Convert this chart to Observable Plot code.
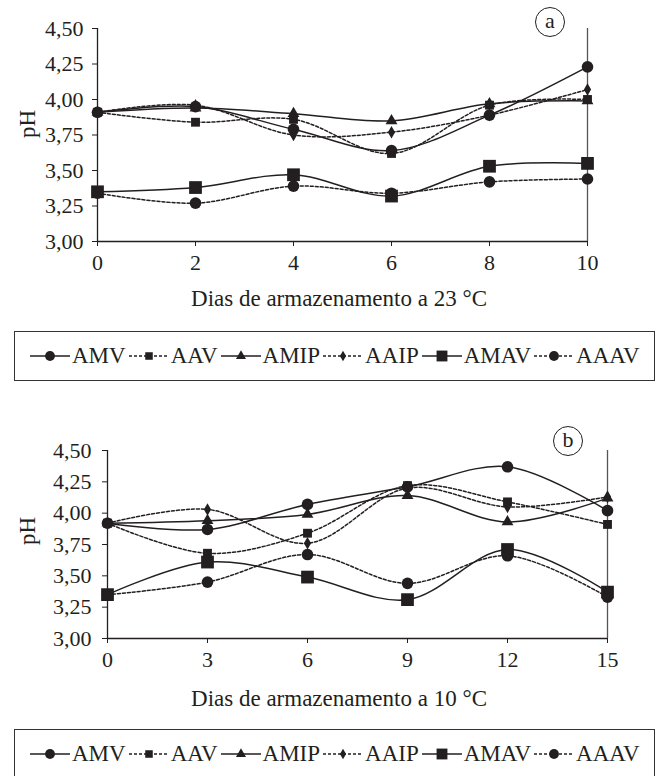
<!DOCTYPE html>
<html>
<head>
<meta charset="utf-8">
<script src="https://cdn.jsdelivr.net/npm/d3@7"></script>
<script src="https://cdn.jsdelivr.net/npm/@observablehq/plot@0.6"></script>
<style>
  body { margin: 0; background: #fff; }
  #page { position: relative; width: 664px; height: 776px; overflow: hidden;
          font-family: "Liberation Serif", "Times New Roman", serif; color: #231f20; }
  .panel { position: absolute; left: 0; }
  .lbl { position: absolute; white-space: nowrap; font-size: 23px; line-height: 1;
         transform: translate(-50%, -50%); }
  .lbl.rot { transform: translate(-50%, -50%) rotate(-90deg); }
  .tag { position: absolute; width: 30px; height: 30px; border: 1.3px solid #231f20;
         border-radius: 50%; box-sizing: border-box; font-size: 22px; line-height: 26px;
         text-align: center; transform: translate(-50%, -50%); background: #fff; }
  .legend { position: absolute; left: 14px; width: 641px; height: 50px; box-sizing: border-box;
            border: 1.3px solid #333; display: flex; align-items: center; padding-left: 15px;
            font-size: 23px; }
  .legend .item { display: flex; align-items: center; margin-right: 3px; }
  .legend svg { margin-right: 2px; }
</style>
</head>
<body>
<div id="page"></div>
<script>
// pH of each treatment during storage at 23 °C (panel a)
const diasA  = [0, 2, 4, 6, 8, 10];
const AMV_a  = [3.91, 3.95, 3.79, 3.64, 3.89, 4.23];
const AAV_a  = [3.91, 3.84, 3.86, 3.62, 3.96, 4.00];
const AMIP_a = [3.91, 3.94, 3.90, 3.85, 3.97, 3.99];
const AAIP_a = [3.91, 3.96, 3.75, 3.77, 3.89, 4.07];
const AMAV_a = [3.35, 3.38, 3.47, 3.32, 3.53, 3.55];
const AAAV_a = [3.34, 3.27, 3.39, 3.34, 3.42, 3.44];

// pH of each treatment during storage at 10 °C (panel b)
const diasB  = [0, 3, 6, 9, 12, 15];
const AMV_b  = [3.92, 3.87, 4.07, 4.21, 4.37, 4.02];
const AAV_b  = [3.92, 3.68, 3.84, 4.22, 4.09, 3.91];
const AMIP_b = [3.92, 3.94, 3.99, 4.14, 3.93, 4.12];
const AAIP_b = [3.92, 4.03, 3.76, 4.20, 4.05, 4.13];
const AMAV_b = [3.35, 3.61, 3.49, 3.31, 3.71, 3.37];
const AAAV_b = [3.35, 3.45, 3.67, 3.44, 3.66, 3.33];

const tratamentos = ["AMV", "AAV", "AMIP", "AAIP", "AMAV", "AAAV"];
const pHTicks = [3, 3.25, 3.5, 3.75, 4, 4.25, 4.5];

// line and marker style of each treatment
const cor = "#231f20";
const estilo = {
  AMV:  { dash: null,  symbol: "circle",   r: 5.8 },
  AAV:  { dash: "3,2", symbol: "square",   r: 5.0 },
  AMIP: { dash: null,  symbol: "triangle", r: 4.4 },
  AAIP: { dash: "3,2", symbol: "diamond",  r: 3.8 },
  AMAV: { dash: null,  symbol: "square",   r: 7.2 },
  AAAV: { dash: "3,2", symbol: "circle",   r: 5.8 }
};

const virgula = d => d.toFixed(2).replace(".", ",");

function linhas(dias, series) {
  return tratamentos.flatMap((t, i) => dias.map((dia, j) => ({ trat: t, dia, pH: series[i][j] })));
}

function painel(dias, series, m) {
  const rows = linhas(dias, series);
  const xMax = dias[dias.length - 1];
  const marks = [
    Plot.axisY({ ticks: pHTicks, tickFormat: virgula, tickSize: 5, tickPadding: m.padY, label: null }),
    Plot.axisX({ ticks: dias, tickSize: 5, tickPadding: 8, label: null }),
    Plot.ruleX([0], { stroke: cor, strokeWidth: 1.3 }),
    Plot.ruleY([3], { stroke: cor, strokeWidth: 1.3 }),
    Plot.ruleX([xMax], { stroke: "#555", strokeWidth: 1.3 })
  ];
  for (const t of tratamentos) {
    const d = rows.filter(r => r.trat === t);
    const s = estilo[t];
    marks.push(Plot.line(d, { x: "dia", y: "pH", curve: "catmull-rom", stroke: cor,
      strokeWidth: 1.5, strokeDasharray: s.dash ?? undefined }));
    marks.push(Plot.dot(d, { x: "dia", y: "pH", symbol: s.symbol, r: s.r, fill: cor, stroke: "none" }));
  }
  return Plot.plot({
    width: 664, height: m.height,
    marginTop: m.top, marginBottom: m.bottom, marginLeft: m.left, marginRight: m.right,
    x: { domain: [0, xMax] },
    y: { domain: [3, 4.5] },
    style: { fontFamily: "Liberation Serif, Times New Roman, serif", fontSize: "22px",
             color: cor, background: "transparent", overflow: "visible" },
    marks
  });
}

function legenda(top) {
  const box = document.createElement("div");
  box.className = "legend";
  box.style.top = top + "px";
  for (const t of tratamentos) {
    const s = estilo[t];
    const item = document.createElement("div");
    item.className = "item";
    const w = 40, h = 24;
    const svg = d3.create("svg").attr("width", w).attr("height", h);
    svg.append("line").attr("x1", 0).attr("x2", w).attr("y1", h / 2).attr("y2", h / 2)
      .attr("stroke", cor).attr("stroke-width", 1.5).attr("stroke-dasharray", s.dash);
    const sym = { circle: d3.symbolCircle, square: d3.symbolSquare,
                  triangle: d3.symbolTriangle, diamond: d3.symbolDiamond }[s.symbol];
    const rr = s.r * 0.85;
    svg.append("path").attr("transform", `translate(${w / 2},${h / 2})`)
      .attr("d", d3.symbol(sym, Math.PI * rr * rr)()).attr("fill", cor);
    item.appendChild(svg.node());
    const span = document.createElement("span");
    span.textContent = t;
    item.appendChild(span);
    box.appendChild(item);
  }
  return box;
}

function rotulo(text, x, y, cls) {
  const el = document.createElement("div");
  el.className = cls;
  el.textContent = text;
  el.style.left = x + "px";
  el.style.top = y + "px";
  return el;
}

const page = document.getElementById("page");

const a = painel(diasA, [AMV_a, AAV_a, AMIP_a, AAIP_a, AMAV_a, AAAV_a],
  { height: 275, top: 28, bottom: 34, left: 97, right: 77, padY: 9 });
a.classList.add("panel");
a.style.top = "0px";
page.appendChild(a);
page.appendChild(rotulo("pH", 27, 124, "lbl rot"));
page.appendChild(rotulo("Dias de armazenamento a 23 °C", 339, 298, "lbl"));
page.appendChild(rotulo("a", 550, 22, "tag"));
page.appendChild(legenda(331));

const b = painel(diasB, [AMV_b, AAV_b, AMIP_b, AAIP_b, AMAV_b, AAAV_b],
  { height: 275, top: 50, bottom: 37, left: 107, right: 57, padY: 11 });
b.classList.add("panel");
b.style.top = "400px";
page.appendChild(b);
page.appendChild(rotulo("pH", 27, 531, "lbl rot"));
page.appendChild(rotulo("Dias de armazenamento a 10 °C", 339, 698, "lbl"));
page.appendChild(rotulo("b", 568, 441, "tag"));
page.appendChild(legenda(729));
</script>
</body>
</html>
